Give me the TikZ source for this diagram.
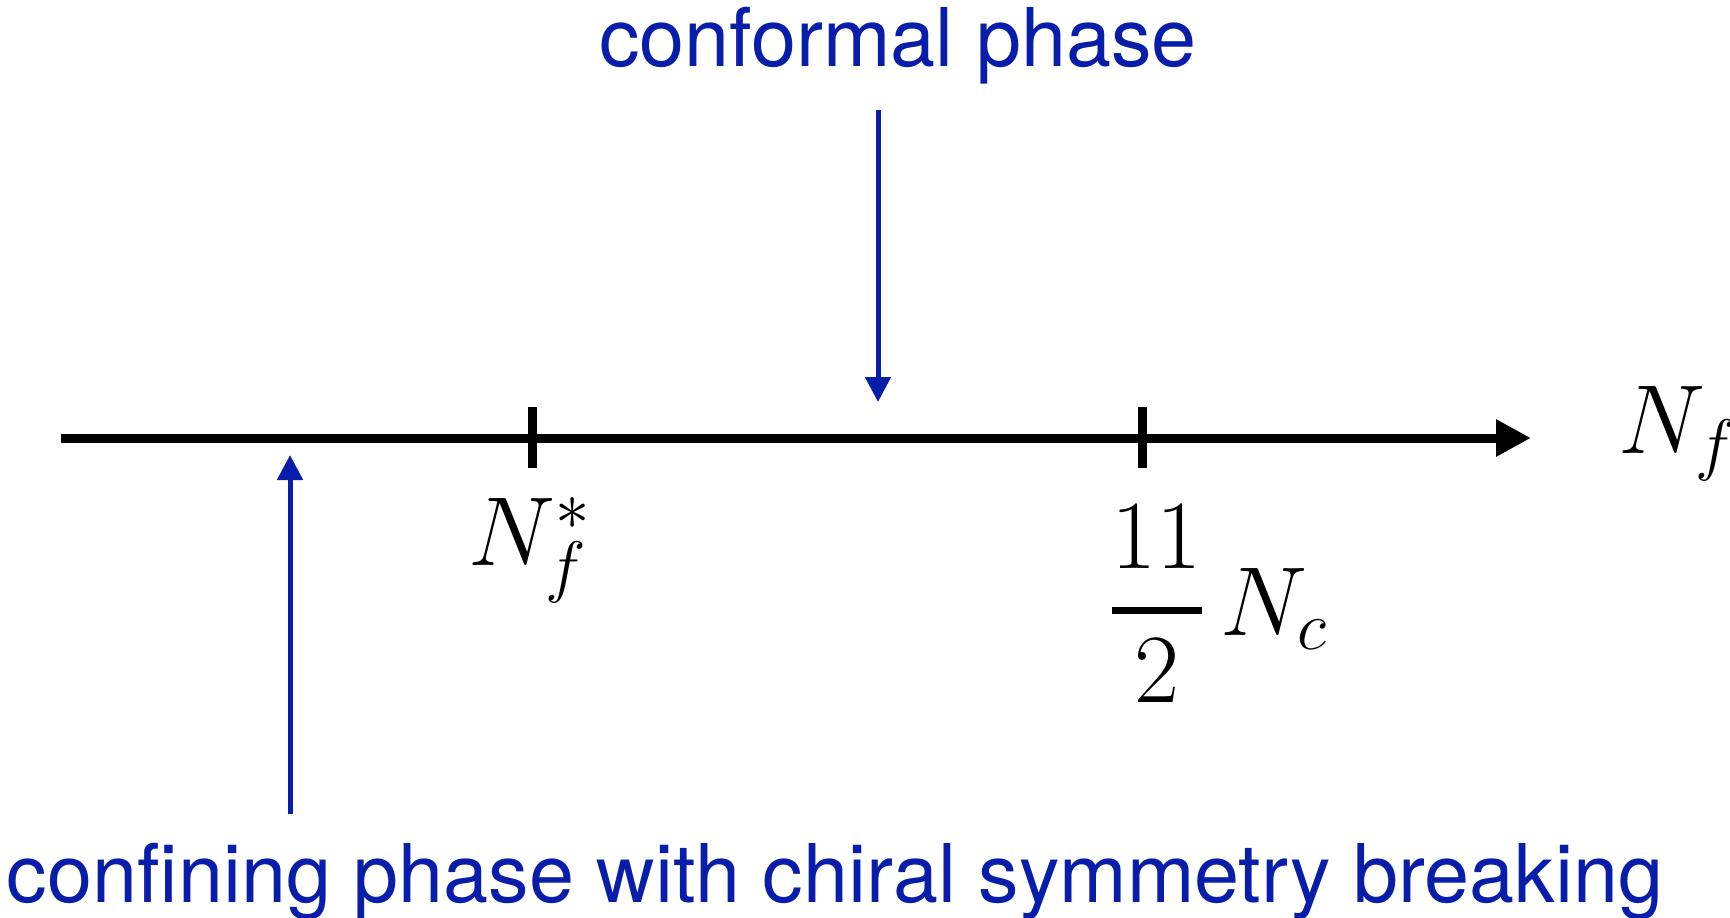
\documentclass[tikz,border=0pt]{standalone}
\usepackage{fix-cm}
\usepackage{amsmath}
\usepackage{fontspec}
\setmainfont{TeX Gyre Heros}
\usetikzlibrary{arrows.meta}
\definecolor{phaseblue}{RGB}{8,30,170}
\begin{document}
\begin{tikzpicture}[x=0.5pt,y=-0.5pt,
  axis/.style={line width=4.5pt},
  phasearrow/.style={draw=phaseblue,line width=2.5pt,-{Triangle[length=12.5pt,width=12.5pt]}},
  phaselabel/.style={text=phaseblue,font=\fontsize{40.5}{48}\selectfont,inner sep=0pt},
  mathlabel/.style={font=\fontsize{49}{58}\selectfont,inner sep=0pt}]
\useasboundingbox (0,0) rectangle (1730,917);
% axis
\coordinate (axL) at (61,438);
\coordinate (axR) at (1531,438);
\draw[axis,-{Triangle[length=17.5pt,width=17.5pt]}] (axL) -- (axR);
% ticks
\coordinate (t1a) at (532,407); \coordinate (t1b) at (532,468);
\coordinate (t2a) at (1142,407); \coordinate (t2b) at (1142,468);
\draw[axis] (t1a) -- (t1b);
\draw[axis] (t2a) -- (t2b);
% labels
\node[mathlabel,anchor=base west] (nf) at (1618,453) {$N_f$};
\node[mathlabel,anchor=base west] (nfs) at (468,565) {$N_f^*$};
\node[mathlabel,anchor=base west] (nc) at (1109,635) {$\genfrac{}{}{3.4pt}{0}{11}{2}\mkern3mu N_c$};
% phases
\node[phaselabel,anchor=base] (conf) at (898,66) {conformal phase};
\node[phaselabel,anchor=base] (confin) at (835,902) {confining phase with chiral symmetry breaking};
\coordinate (c1) at (878,110); \coordinate (c2) at (878,402);
\draw[phasearrow] (c1) -- (c2);
\coordinate (d1) at (290,814); \coordinate (d2) at (290,455);
\draw[phasearrow] (d1) -- (d2);
\end{tikzpicture}
\end{document}
